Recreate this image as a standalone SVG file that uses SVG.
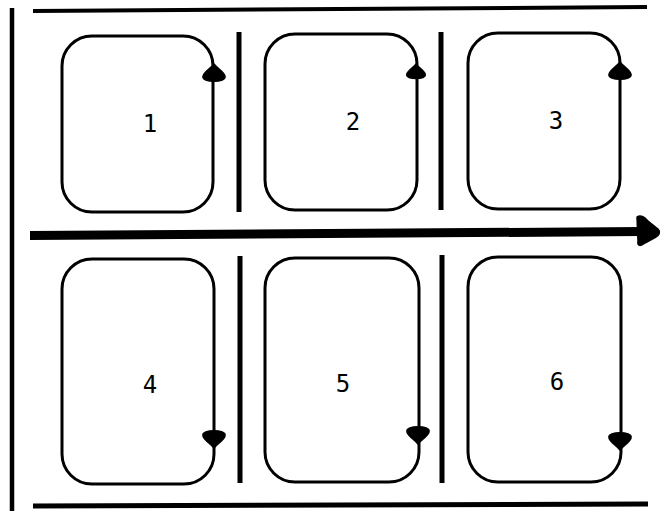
<svg xmlns="http://www.w3.org/2000/svg" width="661" height="511" viewBox="0 0 661 511">
<style>
.box{fill:none;stroke:#000;stroke-width:3}
.lbl{font-family:"DejaVu Sans Mono","Liberation Mono",monospace;font-size:24px;fill:#000;text-anchor:middle}
.rule{stroke:#000;fill:none;stroke-linecap:butt}
.head{fill:#000;stroke:#000;stroke-width:1.5;stroke-linejoin:round}
</style>
<defs>
<path id="up" d="M0,0 C3,4 10,8 11,12 C13,19 -13,19 -11,12 C-10,8 -3,4 0,0 Z"/>
<path id="down" d="M0,0 C3,-4 10,-8 11,-12 C13,-19 -13,-19 -11,-12 C-10,-8 -3,-4 0,0 Z"/>
</defs>
<rect width="661" height="511" fill="#fff"/>
<g id="frame">
<line class="rule" x1="12" y1="8" x2="12" y2="511" stroke-width="4.5"/>
<line class="rule" x1="33" y1="11" x2="647" y2="7" stroke-width="4"/>
<line class="rule" x1="33" y1="506" x2="648" y2="504" stroke-width="5"/>
<line class="rule" x1="239" y1="32" x2="239" y2="212" stroke-width="5"/>
<line class="rule" x1="441" y1="32" x2="441" y2="210" stroke-width="5"/>
<line class="rule" x1="240" y1="256" x2="240" y2="483" stroke-width="5"/>
<line class="rule" x1="442" y1="255" x2="442" y2="483" stroke-width="5"/>
</g>
<g id="n1">
<rect class="box" x="62" y="36" width="151" height="176" rx="30" ry="30"/>
<use href="#up" class="head" x="214" y="64"/>
<text class="lbl" x="150" y="132">1</text>
</g>
<g id="n2">
<rect class="box" x="265" y="34" width="152" height="176" rx="30" ry="30"/>
<use href="#up" class="head" transform="translate(416 64) scale(0.85)"/>
<text class="lbl" x="353" y="130">2</text>
</g>
<g id="n3">
<rect class="box" x="468" y="33" width="152" height="176" rx="30" ry="30"/>
<use href="#up" class="head" x="620" y="62"/>
<text class="lbl" x="556" y="129">3</text>
</g>
<g id="n4">
<rect class="box" x="62" y="259" width="152" height="225" rx="30" ry="30"/>
<use href="#down" class="head" x="214" y="448"/>
<text class="lbl" x="150" y="393">4</text>
</g>
<g id="n5">
<rect class="box" x="265" y="258" width="154" height="224" rx="30" ry="30"/>
<use href="#down" class="head" x="418" y="444"/>
<text class="lbl" x="343" y="392">5</text>
</g>
<g id="n6">
<rect class="box" x="468" y="257" width="153" height="225" rx="30" ry="30"/>
<use href="#down" class="head" x="620" y="450"/>
<text class="lbl" x="557" y="390">6</text>
</g>
<g id="connectors">
<line class="rule" x1="30" y1="235.5" x2="642" y2="231.5" stroke-width="9"/>
<path class="head" d="M637,217 C641,214 645,218 648,221 L658,229 C661,232 659,235 656,237 L645,243 C641,246 637,247 638,241 Z"/>
</g>
</svg>
